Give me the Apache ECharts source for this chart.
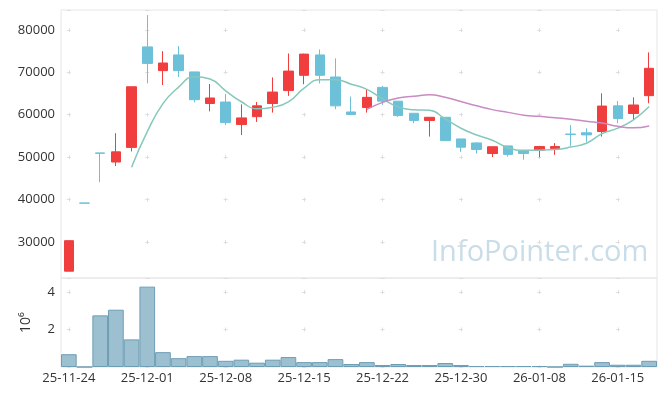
<!DOCTYPE html>
<html><head><meta charset="utf-8">
<script src="https://cdn.jsdelivr.net/npm/echarts@6/dist/echarts.min.js"></script>
<style>html,body{margin:0;padding:0;background:#fff}#c{width:665px;height:396px}</style>
</head><body><div id="c"></div><script>
var dates = ['25-11-24','25-11-25','25-11-26','25-11-27','25-11-28','25-12-01','25-12-02','25-12-03','25-12-04','25-12-05',
  '25-12-08','25-12-09','25-12-10','25-12-11','25-12-12','25-12-15','25-12-16','25-12-17','25-12-18','25-12-19',
  '25-12-22','25-12-23','25-12-24','25-12-26','25-12-29','25-12-30','26-01-02','26-01-05','26-01-06','26-01-07',
  '26-01-08','26-01-09','26-01-12','26-01-13','26-01-14','26-01-15','26-01-16','26-01-19'];
var openP  = [23100,39180,51000,48850,52300,76000,70400,74100,70100,62650,63000,57700,59550,62650,65700,69300,74100,68900,60650,61700,66450,63200,60350,58650,59400,54300,53350,50850,52650,51500,51650,52050,55450,55750,56050,62100,60300,64500];
var closeP = [30300,39150,50900,51250,66600,72100,72200,70400,63550,63950,58150,59250,62100,65350,70300,74300,69300,62100,60050,64100,63200,59800,58650,59400,53900,52350,51800,52450,50650,50850,52500,52500,55350,55250,62050,59100,62300,70950];
var lowP   = [23100,39150,44100,47900,51350,67400,67000,68900,62950,60800,57550,55200,58300,60500,64450,67200,67400,61300,59900,60500,62300,59500,58000,54850,53900,51250,50850,50000,50150,49400,50000,50550,52650,53600,54850,58000,58800,62700];
var highP  = [30300,39180,51000,55650,66600,83500,75000,76200,70100,67250,64900,62450,63000,68800,74450,74400,75400,73300,64300,66000,66800,63200,60350,59400,59400,54300,53500,52450,52700,51500,52650,53300,57550,56800,65050,63250,64100,74700];
var volume = [0.68,0,2.75,3.05,1.47,4.28,0.79,0.47,0.58,0.58,0.33,0.39,0.23,0.39,0.53,0.26,0.26,0.42,0.16,0.26,0.105,0.16,0.105,0.105,0.21,0.105,0.05,0.05,0.05,0.05,0.05,0,0.17,0.07,0.26,0.12,0.12,0.33];
var ma5 = ['-','-','-','-',47640,56000,62610,66510,68970,68440,65650,63060,61400,61760,63030,66260,68270,68270,67210,65970,63750,61850,61160,61030,58990,56820,55220,53980,52230,51620,51650,51790,52370,53290,55530,56850,58810,61930];
var ma20 = ['-','-','-','-','-','-','-','-','-','-','-','-','-','-','-','-','-','-','-',61270,62915,63948,64335,64743,64108,63120,62100,61203,60558,59903,59620,59283,58945,58440,58028,57268,56918,57360];
var volumeAxisName = '10\u2076';
var watermark = 'InfoPointer.com';

var candles = dates.map(function(d,i){ return [openP[i], closeP[i], lowP[i], highP[i]]; });
var FONT = '"Open Sans", sans-serif';
var gridCol = '#dedede';
var band = (665-61-8)/dates.length;
var xPeriod = band*5;
var xStart = band/2 - 2;
var plain = function(v){ return String(v); };

var chart = echarts.init(document.getElementById('c'), null, {renderer:'canvas'});
chart.setOption({
  animation:false,
  backgroundColor:'#fff',
  grid:[
    {left:61, right:8, top:10, height:268, show:true, borderColor:'#e6e6e6', borderWidth:1},
    {left:61, right:8, top:278, height:89, show:true, borderColor:'#e6e6e6', borderWidth:1}
  ],
  xAxis:[
    {type:'category', gridIndex:0, data:dates, axisLine:{show:false}, axisTick:{show:false}, axisLabel:{show:false, interval:4},
     splitLine:{show:true, interval:4, alignWithLabel:true, lineStyle:{color:gridCol, width:1, type:[4, 42.41-4], dashOffset:42.41-17.93}}},
    {type:'category', gridIndex:1, data:dates, axisLine:{show:false}, axisTick:{show:false},
     axisLabel:{interval:4, color:'#333', fontSize:13, fontFamily:FONT, margin:5},
     splitLine:{show:true, interval:4, alignWithLabel:true, lineStyle:{color:gridCol, width:1, type:[4, 37.55-4], dashOffset:37.55-11.9}}}
  ],
  yAxis:[
    {type:'value', gridIndex:0, min:21500, max:84700, splitNumber:6, axisLine:{show:false}, axisTick:{show:false},
     axisLabel:{showMinLabel:false, showMaxLabel:false, color:'#333', fontSize:13, fontFamily:FONT, margin:6, formatter:plain},
     splitLine:{show:true, lineStyle:{color:gridCol, width:1, type:[4, xPeriod-4], dashOffset:xPeriod-xStart}}},
    {type:'value', gridIndex:1, min:0, max:4.74, interval:2, axisLine:{show:false}, axisTick:{show:false},
     name:volumeAxisName, nameLocation:'middle', nameRotate:90, nameGap:28, nameTextStyle:{color:'#333', fontSize:14, fontFamily:FONT},
     axisLabel:{showMinLabel:false, showMaxLabel:false, color:'#333', fontSize:13, fontFamily:FONT, margin:6, formatter:plain},
     splitLine:{show:true, lineStyle:{color:gridCol, width:1, type:[4, xPeriod-4], dashOffset:xPeriod-xStart}}}
  ],
  graphic:[
    {type:'text', left:431, top:238, z:0, style:{text:watermark, font:'29px "Open Sans"', fill:'#c9dde8'}}
  ],
  series:[
    {type:'candlestick', xAxisIndex:0, yAxisIndex:0, data:candles, barWidth:10,
     itemStyle:{color:'#f03e3e', color0:'#6cc1d9', borderColor:'#f03e3e', borderColor0:'#6cc1d9', borderWidth:1}},
    {type:'line', xAxisIndex:0, yAxisIndex:0, data:ma5, smooth:true, symbol:'none', lineStyle:{color:'#86c8bb', width:1.5}},
    {type:'line', xAxisIndex:0, yAxisIndex:0, data:ma20, smooth:true, symbol:'none', lineStyle:{color:'#c98bc2', width:1.5}},
    {type:'bar', xAxisIndex:1, yAxisIndex:1, data:volume, barWidth:'100%', barCategoryGap:0,
     itemStyle:{color:'#9cc0d0', borderColor:'#6d9db4', borderWidth:1}}
  ]
});
</script></body></html>
